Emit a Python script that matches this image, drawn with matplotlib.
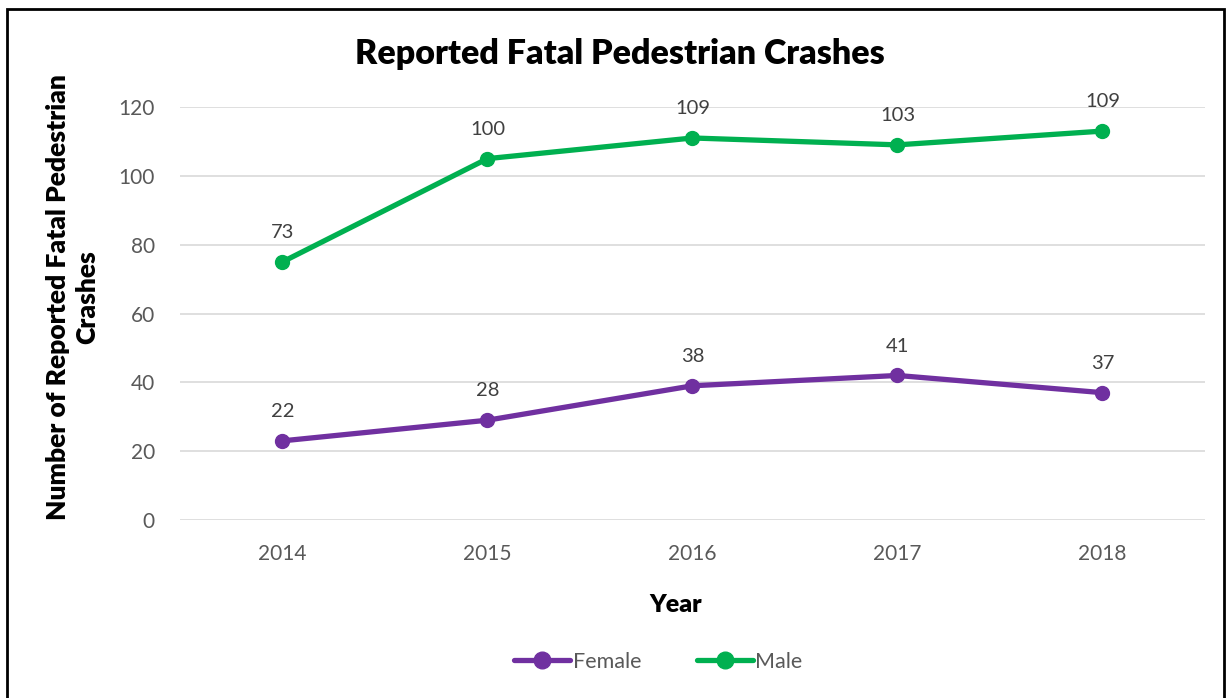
import matplotlib
matplotlib.use("Agg")
import matplotlib.pyplot as plt
from matplotlib.patches import Rectangle

# data (plotted position vs. printed data label)
years = ["2014", "2015", "2016", "2017", "2018"]
female = [23, 29, 39, 42, 37]
female_labels = ["22", "28", "38", "41", "37"]
male = [75, 105, 111, 109, 113]
male_labels = ["73", "100", "109", "103", "109"]
yticks = [0, 20, 40, 60, 80, 100, 120]

plt.rcParams['font.family'] = ['Lato', 'DejaVu Sans']

fig = plt.figure(figsize=(12.26, 6.98), dpi=100)
ax = fig.add_axes([0.1468, 0.255, 0.836, 0.5917])

x = list(range(len(years)))
ax.plot(x, female, color='#7030A0', lw=3.8, marker='o', ms=10, label='Female',
        solid_capstyle='round', zorder=3)
ax.plot(x, male, color='#00B050', lw=3.8, marker='o', ms=10, label='Male',
        solid_capstyle='round', zorder=3)

for xi, v, t in zip(x, female, female_labels):
    ax.annotate(t, (xi, v), xytext=(0, 15), textcoords='offset points',
                ha='center', va='bottom', fontsize=14.5, color='#404040')
for xi, v, t in zip(x, male, male_labels):
    ax.annotate(t, (xi, v), xytext=(0, 15), textcoords='offset points',
                ha='center', va='bottom', fontsize=14.5, color='#404040')

ax.set_xlim(-0.5, 4.5)
ax.set_ylim(0, 120)
ax.set_xticks(x)
ax.set_xticklabels(years)
ax.set_yticks(yticks)
ax.tick_params(length=0, labelsize=15, labelcolor='#595959')
ax.tick_params(axis='x', pad=17)
ax.tick_params(axis='y', pad=18)
ax.grid(axis='y', color='#D9D9D9', lw=1.2)
ax.set_axisbelow(True)
for s in ax.spines.values():
    s.set_visible(False)

ax.set_xlabel('Year', fontsize=18, fontweight='heavy')
ax.xaxis.set_label_coords(0.484, -0.206)
ax.xaxis.label.set_va('center')
fig.text(0.059, 0.575, 'Number of Reported Fatal Pedestrian\nCrashes', rotation=90,
         ha='center', va='center', fontsize=19, fontweight='heavy', multialignment='center',
         linespacing=1.25)
fig.text(0.506, 0.922, 'Reported Fatal Pedestrian Crashes', ha='center', va='center',
         fontsize=24.5, fontweight='heavy')

fig.legend(loc='center', bbox_to_anchor=(0.537, 0.052), ncol=2, frameon=False,
           fontsize=15.5, labelcolor='#595959', handlelength=2.6, handletextpad=0.1,
           columnspacing=2.6, markerscale=1.2)

# outer border
fig.patches.append(Rectangle((0.006, -0.01), 0.992, 0.997, transform=fig.transFigure,
                             fill=False, ec='black', lw=2))

fig.savefig('out.png', dpi=100)
